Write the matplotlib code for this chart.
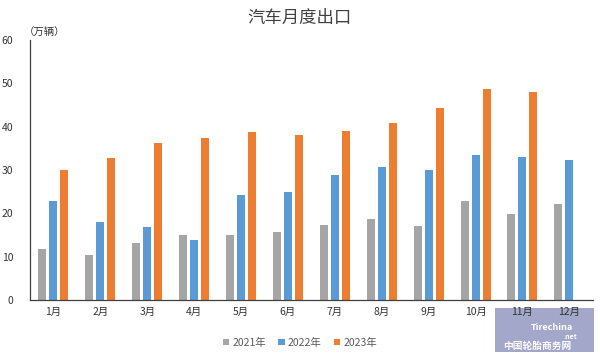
import numpy as np
import matplotlib
matplotlib.use("Agg")
import matplotlib.pyplot as plt
from matplotlib.patches import Rectangle

plt.rcParams['font.family'] = ['Noto Sans CJK SC', 'DejaVu Sans']

months = ["1月", "2月", "3月", "4月", "5月", "6月", "7月", "8月", "9月", "10月", "11月", "12月"]
years = ["2021年", "2022年", "2023年"]
exports_2021 = [11.8, 10.4, 13.2, 15.0, 15.0, 15.7, 17.3, 18.7, 17.1, 22.9, 19.8, 22.1]
exports_2022 = [22.8, 18.0, 16.9, 13.9, 24.2, 24.9, 28.9, 30.7, 30.0, 33.5, 33.0, 32.3]
exports_2023 = [29.9, 32.8, 36.2, 37.4, 38.8, 38.1, 39.0, 40.8, 44.3, 48.7, 48.0]
colors = ["#A5A5A5", "#5B9BD5", "#ED7D31"]

fig = plt.figure(figsize=(6, 3.57), dpi=100)
ax = fig.add_axes([0.05, 0.16, 0.938, 0.728])

x = np.arange(len(months))
w = 0.17
off = 0.235
series = [exports_2021, exports_2022, exports_2023]
for i, (vals, c, lab) in enumerate(zip(series, colors, years)):
    xs = x[:len(vals)] + (i - 1) * off
    ax.bar(xs, vals, width=w, color=c, label=lab)

ax.set_xlim(-0.5, len(months) - 0.5)
ax.set_ylim(0, 60)
ax.set_yticks(range(0, 61, 10))
ax.set_xticks(x)
ax.set_xticklabels(months)
ax.tick_params(axis='both', length=0, labelsize=7.5, colors='#333333')
ax.tick_params(axis='y', pad=12)
ax.tick_params(axis='x', pad=5)
for s in ['top', 'right']:
    ax.spines[s].set_visible(False)
ax.spines['left'].set_color('#404040')
ax.spines['bottom'].set_color('#404040')
ax.spines['left'].set_linewidth(0.9)
ax.spines['bottom'].set_linewidth(0.9)

fig.text(0.5, 0.95, "汽车月度出口", ha='center', va='center', fontsize=12.5,
         color='#404040', fontweight='light')
fig.text(0.074, 0.907, "（万辆）", ha='center', va='center', fontsize=7.5, color='#333333')

leg = fig.legend(loc='center', bbox_to_anchor=(0.5, 0.04), ncol=3, frameon=False,
                 fontsize=7.5, handlelength=0.6, handleheight=0.6, handletextpad=0.3,
                 columnspacing=1.2, labelcolor='#595959')

# watermark box (behind the month labels, like the reference)
fig.patches.append(Rectangle((0.825, 0.014), 0.165, 0.122, transform=fig.transFigure,
                             facecolor='#A3A7C9', edgecolor='none', zorder=-1))
fig.text(0.92, 0.083, "Tirechina", ha='center', va='center', fontsize=6.5,
         color='white', fontstyle='italic', fontweight='bold', zorder=6)
fig.text(0.95, 0.058, ".net", ha='center', va='center', fontsize=5,
         color='white', fontstyle='italic', fontweight='bold', zorder=6)
fig.text(0.895, 0.032, "中国轮胎商务网", ha='center', va='center', fontsize=7,
         color='white', fontweight='bold', zorder=6)

fig.savefig("out.png", dpi=100)
